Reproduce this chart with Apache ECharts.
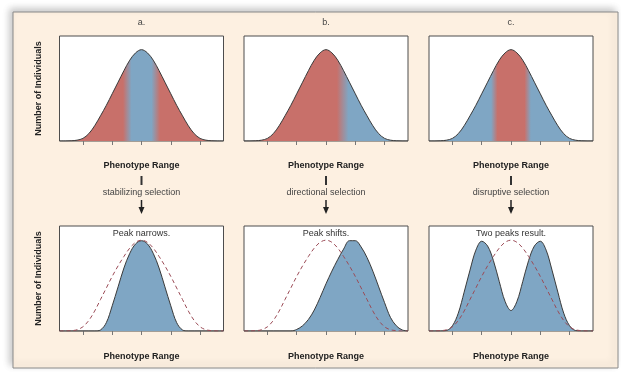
<!DOCTYPE html>
<html><head><meta charset="utf-8">
<script src="https://cdn.jsdelivr.net/npm/echarts@6/dist/echarts.min.js"></script>
<style>html,body{margin:0;padding:0;background:#fff}#c{width:621px;height:372px}</style>
</head><body><div id="c"></div>
<script>
// ---- data (x in phenotype units, y in % of the plot height) ----
const phenotypeX      = [-2.8,-2.6,-2.4,-2.2,-2.0,-1.8,-1.6,-1.4,-1.2,-1.0,-0.8,-0.6,-0.4,-0.2,0,0.2,0.4,0.6,0.8,1.0,1.2,1.4,1.6,1.8,2.0,2.2,2.4,2.6,2.8];
const originalCurve   = [0,0,0.2,0.8,2.5,7,14.5,24,34,45,56,67,77,84,87,84,77,67,56,45,34,24,14.5,7,2.5,0.8,0.2,0,0];
const originalDashed  = [0,0,0.3,1.2,4,10,19,30,41,52,62,71,79,84.5,86.5,84.5,79,71,62,52,41,30,19,10,4,1.2,0.3,0,0];
const stabilizedCurve = [0,0,0,0,0,0,0,1,8,24,42,60,74,83,86,83,74,60,42,24,8,1,0,0,0,0,0,0,0];
const directedCurve   = [0,0,0,0,0,0,0,0,0,1.5,5,11,20,32,45,57,68,78,86,86,80,70,57,42,27,13,5,1,0];
const disruptedCurve  = [0,0,0,0.5,5,17,37,58,77,85.5,81,67,47,28,19.5,28,47,67,81,85.5,77,58,37,17,5,0.5,0,0,0];
const tickValues      = [-2,-1,0,1,2];
const panelLetters    = ['a.','b.','c.'];
const selectionLabels = ['stabilizing selection','directional selection','disruptive selection'];
const resultLabels    = ['Peak narrows.','Peak shifts.','Two peaks result.'];
const xTitle = 'Phenotype Range';
const yTitle = 'Number of Individuals';
// colour bands of the top curves: [phenotype value, colour key]
const bandA = [[-2.8,'r'],[-0.63,'r'],[-0.34,'b'],[0.34,'b'],[0.63,'r'],[2.8,'r']];
const bandB = [[-2.8,'r'],[0.37,'r'],[0.77,'b'],[2.8,'b']];
const bandC = [[-2.8,'b'],[-0.68,'b'],[-0.46,'r'],[0.46,'r'],[0.68,'b'],[2.8,'b']];

// ---- style ----
const RED = '#c8706a', BLUE = '#7fa6c4', DASH = '#9b4b56', OUTLINE = '#3a3a3a';
const FONT = '"Liberation Sans", Arial, sans-serif';
const XMIN = -2.8, XMAX = 2.8;
const colLeft = [59.5, 244, 429], colW = 164;
const rowTop = [36, 226], rowH = 105;

const pairs = ys => phenotypeX.map((x, i) => [x, ys[i]]);
const grad = band => new echarts.graphic.LinearGradient(0, 0, 1, 0,
  band.map(([x, k]) => ({offset: (x - XMIN) / (XMAX - XMIN), color: k === 'r' ? RED : BLUE})));

const grids = [], xAxes = [], yAxes = [], series = [];
for (let r = 0; r < 2; r++) for (let c = 0; c < 3; c++) {
  const i = grids.length;
  grids.push({left: colLeft[c], top: rowTop[r], width: colW, height: rowH, show: true,
    backgroundColor: '#fff', borderColor: '#4d4d4d', borderWidth: 1, containLabel: false});
  xAxes.push({type: 'value', gridIndex: i, min: XMIN, max: XMAX,
    axisLine: {show: false}, splitLine: {show: false}, axisLabel: {show: false},
    axisTick: {show: true, inside: false, length: 4, customValues: tickValues, lineStyle: {color: '#777', width: 1}},
    name: xTitle, nameLocation: 'middle', nameGap: r === 0 ? 20 : 21,
    nameTextStyle: {fontFamily: FONT, fontWeight: 'bold', fontSize: 9, color: '#222'}});
  yAxes.push({type: 'value', gridIndex: i, min: 0, max: 100, show: c === 0,
    axisLine: {show: false}, axisTick: {show: false}, axisLabel: {show: false}, splitLine: {show: false},
    name: yTitle, nameLocation: 'middle', nameGap: 16, nameRotate: 90,
    nameTextStyle: {fontFamily: FONT, fontWeight: 'bold', fontSize: 9, color: '#222'}});
}
const area = (idx, ys, fill) => ({type: 'line', xAxisIndex: idx, yAxisIndex: idx, data: pairs(ys),
  showSymbol: false, smooth: 0.35, silent: true, z: 3,
  lineStyle: {color: OUTLINE, width: 1}, areaStyle: {color: fill, opacity: 1}});
const dashed = idx => ({type: 'line', xAxisIndex: idx, yAxisIndex: idx, data: pairs(originalDashed),
  showSymbol: false, smooth: 0.35, silent: true, z: 4,
  lineStyle: {color: DASH, width: 1, type: [4, 3]}});
series.push(area(0, originalCurve, grad(bandA)));
series.push(area(1, originalCurve, grad(bandB)));
series.push(area(2, originalCurve, grad(bandC)));
series.push(area(3, stabilizedCurve, BLUE), dashed(3));
series.push(area(4, directedCurve, BLUE), dashed(4));
series.push(area(5, disruptedCurve, BLUE), dashed(5));

const centers = colLeft.map(l => l + colW / 2);
const graphics = [{type: 'rect', z: -10, shape: {x: 13, y: 12, width: 605, height: 356},
  style: {fill: '#fdf0e1', stroke: '#8a8a8a', lineWidth: 1,
    shadowBlur: 7, shadowColor: 'rgba(0,0,0,0.22)', shadowOffsetX: -3, shadowOffsetY: -3}}];
centers.forEach((cx, c) => {
  graphics.push({type: 'text', x: cx, y: 23, z: 20, style: {text: panelLetters[c], fill: '#444',
    font: '9px ' + FONT, textAlign: 'center', textVerticalAlign: 'middle'}});
  graphics.push({type: 'line', z: 20, shape: {x1: cx, y1: 176, x2: cx, y2: 185}, style: {stroke: '#333', lineWidth: 2}});
  graphics.push({type: 'text', x: cx, y: 193, z: 20, style: {text: selectionLabels[c], fill: '#444',
    font: '9px ' + FONT, textAlign: 'center', textVerticalAlign: 'middle'}});
  graphics.push({type: 'line', z: 20, shape: {x1: cx, y1: 200, x2: cx, y2: 208}, style: {stroke: '#222', lineWidth: 1.5}});
  graphics.push({type: 'polygon', z: 20, shape: {points: [[cx - 3, 207], [cx + 3, 207], [cx, 214]]}, style: {fill: '#222'}});
  graphics.push({type: 'text', x: cx, y: 234, z: 20, style: {text: resultLabels[c], fill: '#333',
    font: '9px ' + FONT, textAlign: 'center', textVerticalAlign: 'middle'}});
});

const chart = echarts.init(document.getElementById('c'), null, {renderer: 'canvas'});
chart.setOption({backgroundColor: '#fff', animation: false,
  grid: grids, xAxis: xAxes, yAxis: yAxes, series: series, graphic: graphics});
</script></body></html>
